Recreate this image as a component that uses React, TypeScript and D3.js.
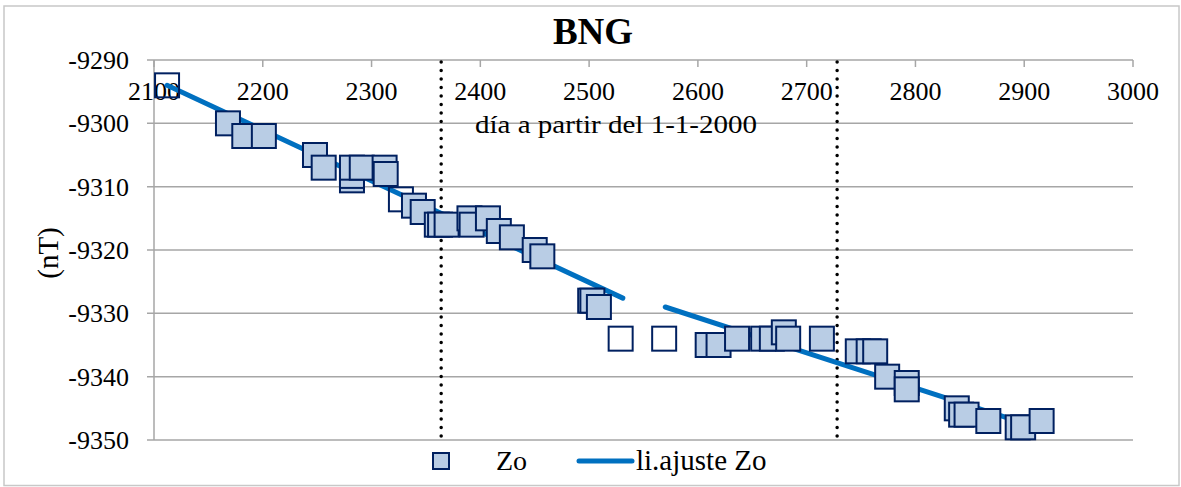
import React from "react";
import * as d3 from "d3";

// ---- data ----
const zoDays = [2112, 2168, 2183, 2201, 2248, 2256, 2282, 2282, 2282, 2291, 2312, 2313, 2327, 2339, 2347, 2360, 2363, 2369, 2390, 2392, 2407, 2417, 2429, 2450, 2457, 2501, 2503, 2509, 2529, 2569, 2609, 2619, 2636, 2660, 2668, 2679, 2683, 2714, 2747, 2757, 2763, 2774, 2792, 2792, 2838, 2842, 2847, 2867, 2894, 2899, 2916];
const zoValues = [-9294, -9300, -9302, -9302, -9305, -9307, -9309, -9308.3, -9307, -9307, -9307, -9308, -9312, -9313, -9314, -9316, -9316, -9316, -9315, -9316, -9315, -9317, -9318, -9320, -9321, -9328, -9328, -9329, -9334, -9334, -9335, -9335, -9334, -9334, -9334, -9333, -9334, -9334, -9336, -9336, -9336, -9340, -9341, -9342, -9345, -9346, -9346, -9347, -9348, -9348, -9347];
const zoHollow = [true, false, false, false, false, false, false, false, false, false, false, false, true, false, false, false, false, false, false, false, false, false, false, false, false, false, false, false, true, true, false, false, false, false, false, false, false, false, false, false, false, false, false, false, false, false, false, false, false, false, false];

const fitSeg1Days = [2112, 2531];
const fitSeg1Values = [-9294, -9327.6];
const fitSeg2Days = [2570, 2886];
const fitSeg2Values = [-9329, -9346.6];

const markerDays = [2364, 2728];

const xTicks = [2100, 2200, 2300, 2400, 2500, 2600, 2700, 2800, 2900, 3000];
const yTicks = [-9290, -9300, -9310, -9320, -9330, -9340, -9350];

const title = "BNG";
const xTitle = "día a partir del 1-1-2000";
const yTitle = "(nT)";
const legendLabels = ["Zo", "li.ajuste Zo"];

// ---- component ----
export default function App() {
  const W = 1181, H = 487;
  const left = 154, right = 1133, top = 60, bottom = 440;
  const x = d3.scaleLinear().domain([2100, 3000]).range([left, right]);
  const y = d3.scaleLinear().domain([-9350, -9290]).range([bottom, top]);
  const line = d3.line<[number, number]>().x(d => x(d[0])).y(d => y(d[1]));
  const seg1 = fitSeg1Days.map((d, i) => [d, fitSeg1Values[i]] as [number, number]);
  const seg2 = fitSeg2Days.map((d, i) => [d, fitSeg2Values[i]] as [number, number]);
  const ff = "Liberation Serif";
  const grid = "#a6a6a6";
  const sq = 24;
  const navy = "#002060";
  const fillBlue = "#b9cde5";
  const ts = { fontFamily: ff };

  return (
    <svg width={W} height={H} style={{ position: "absolute", left: 0, top: 0, background: "#fff", fontFamily: ff }}>
      <rect x={4} y={6} width={1175} height={479.5} fill="#fff" stroke="#c8c8c8" strokeWidth={1.5} />
      <text x={593} y={44} textAnchor="middle" fontSize={37} fontWeight="bold" style={ts}>{title}</text>

      {yTicks.map(t => (
        <line key={t} x1={left - 7} x2={right} y1={y(t)} y2={y(t)} stroke={grid} strokeWidth={1.5} />
      ))}
      <line x1={left} x2={left} y1={top} y2={bottom} stroke={grid} strokeWidth={1.5} />
      {xTicks.map(t => (
        <line key={t} x1={x(t)} x2={x(t)} y1={top} y2={top + 7} stroke={grid} strokeWidth={1.5} />
      ))}
      {yTicks.map(t => (
        <text key={t} x={129} y={y(t)} dy="0.35em" textAnchor="end" fontSize={26} style={ts}>{t}</text>
      ))}
      {xTicks.map(t => (
        <text key={t} x={x(t)} y={100} textAnchor="middle" fontSize={26} style={ts}>{t}</text>
      ))}
      <text x={616} y={133} textAnchor="middle" fontSize={25} textLength={282} lengthAdjust="spacingAndGlyphs" style={ts}>{xTitle}</text>
      <text transform={`translate(58,253) rotate(-90)`} textAnchor="middle" fontSize={29} style={ts}>{yTitle}</text>

      {markerDays.map(m => (
        <line key={m} x1={x(m)} x2={x(m)} y1={top + 2} y2={bottom} stroke="#000" strokeWidth={3.5} strokeLinecap="round" strokeDasharray="0 8.5" />
      ))}

      <path d={line(seg1) || ""} fill="none" stroke="#0070c0" strokeWidth={5} strokeLinecap="round" />
      <path d={line(seg2) || ""} fill="none" stroke="#0070c0" strokeWidth={5} strokeLinecap="round" />

      {zoDays.map((d, i) => (
        <rect key={i} x={x(d) - sq / 2} y={y(zoValues[i]) - sq / 2} width={sq} height={sq}
          fill={zoHollow[i] ? "none" : fillBlue} stroke={navy} strokeWidth={2} />
      ))}

      <rect x={433} y={453} width={16} height={16} fill={fillBlue} stroke={navy} strokeWidth={2} />
      <text x={496} y={470} fontSize={28} style={ts}>{legendLabels[0]}</text>
      <line x1={579} x2={632} y1={461} y2={461} stroke="#0070c0" strokeWidth={5} strokeLinecap="round" />
      <text x={636} y={470} fontSize={29} style={ts}>{legendLabels[1]}</text>
    </svg>
  );
}
